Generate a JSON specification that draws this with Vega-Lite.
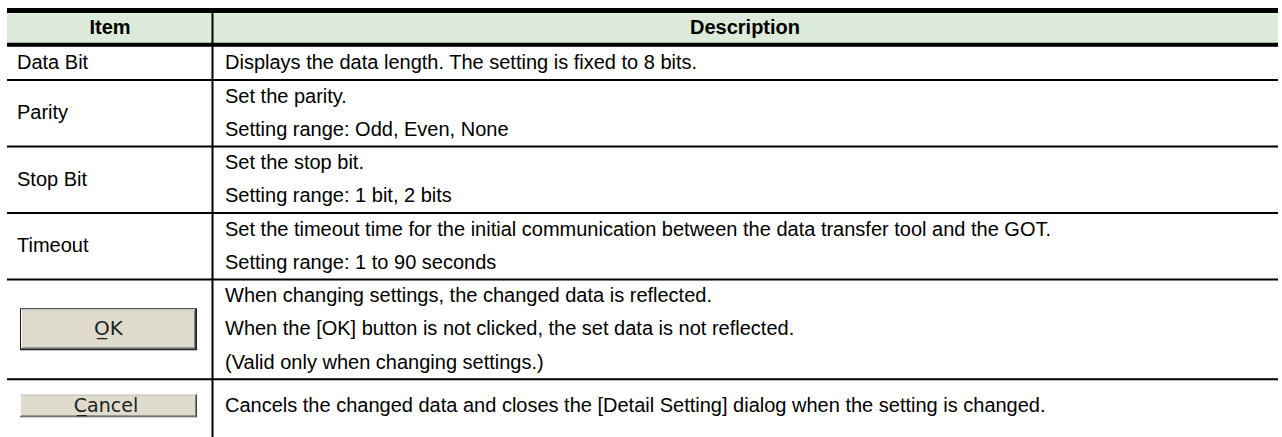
{
  "$schema": "https://vega.github.io/schema/vega-lite/v6.json",
  "width": 1282,
  "height": 437,
  "padding": 0,
  "autosize": {"type": "none"},
  "background": "white",
  "config": {"view": {"stroke": null}, "text": {"font": "Liberation Sans"}},
  "datasets": {
    "header": [{"item": "Item", "description": "Description"}],
    "rows": [
      {"item": "Data Bit", "top": 1},
      {"item": "Parity", "top": 2},
      {"item": "Stop Bit", "top": 4},
      {"item": "Timeout", "top": 6},
      {"item": "OK", "top": 8},
      {"item": "Cancel", "top": 11}
    ],
    "lines": [
      {"item": "Data Bit", "line": 1, "text": "Displays the data length. The setting is fixed to 8 bits."},
      {"item": "Parity", "line": 2, "text": "Set the parity."},
      {"item": "Parity", "line": 3, "text": "Setting range: Odd, Even, None"},
      {"item": "Stop Bit", "line": 4, "text": "Set the stop bit."},
      {"item": "Stop Bit", "line": 5, "text": "Setting range: 1 bit, 2 bits"},
      {"item": "Timeout", "line": 6, "text": "Set the timeout time for the initial communication between the data transfer tool and the GOT."},
      {"item": "Timeout", "line": 7, "text": "Setting range: 1 to 90 seconds"},
      {"item": "OK", "line": 8, "text": "When changing settings, the changed data is reflected."},
      {"item": "OK", "line": 9, "text": "When the [OK] button is not clicked, the set data is not reflected."},
      {"item": "OK", "line": 10, "text": "(Valid only when changing settings.)"},
      {"item": "Cancel", "line": 11.3, "text": "Cancels the changed data and closes the [Detail Setting] dialog when the setting is changed."}
    ]
  },
  "layer": [
    {
      "data": {"name": "header"},
      "mark": {"type": "rect", "fill": "#DCEBD9"},
      "encoding": {
        "x": {"datum": 7, "type": "quantitative", "scale": {"domain": [0, 1282], "nice": false, "zero": false}, "axis": null},
        "x2": {"datum": 1278},
        "y": {"datum": 0, "type": "quantitative", "scale": {"domain": [-0.406, 12.737], "nice": false, "zero": false, "reverse": true}, "axis": null},
        "y2": {"datum": 1}
      }
    },
    {
      "data": {"name": "header"},
      "mark": {"type": "rule", "stroke": "black", "strokeWidth": 5, "yOffset": -3},
      "encoding": {
        "x": {"datum": 7, "type": "quantitative", "scale": {"domain": [0, 1282], "nice": false, "zero": false}, "axis": null},
        "x2": {"datum": 1278},
        "y": {"datum": 0, "type": "quantitative", "scale": {"domain": [-0.406, 12.737], "nice": false, "zero": false, "reverse": true}, "axis": null}
      }
    },
    {
      "data": {"name": "header"},
      "mark": {"type": "rule", "stroke": "black", "strokeWidth": 4, "yOffset": -2},
      "encoding": {
        "x": {"datum": 7, "type": "quantitative", "scale": {"domain": [0, 1282], "nice": false, "zero": false}, "axis": null},
        "x2": {"datum": 1278},
        "y": {"datum": 1, "type": "quantitative", "scale": {"domain": [-0.406, 12.737], "nice": false, "zero": false, "reverse": true}, "axis": null}
      }
    },
    {
      "data": {"name": "rows"},
      "transform": [{"filter": "datum.top >= 2"}],
      "mark": {"type": "rule", "stroke": "black", "strokeWidth": 2},
      "encoding": {
        "x": {"datum": 7, "type": "quantitative", "scale": {"domain": [0, 1282], "nice": false, "zero": false}, "axis": null},
        "x2": {"datum": 1278},
        "y": {"field": "top", "type": "quantitative", "scale": {"domain": [-0.406, 12.737], "nice": false, "zero": false, "reverse": true}, "axis": null}
      }
    },
    {
      "data": {"name": "header"},
      "mark": {"type": "rule", "stroke": "black", "strokeWidth": 2, "yOffset": -3},
      "encoding": {
        "x": {"datum": 212.5, "type": "quantitative", "scale": {"domain": [0, 1282], "nice": false, "zero": false}, "axis": null},
        "y": {"datum": 0, "type": "quantitative", "scale": {"domain": [-0.406, 12.737], "nice": false, "zero": false, "reverse": true}, "axis": null},
        "y2": {"datum": 12.737}
      }
    },
    {
      "data": {"name": "header"},
      "mark": {"type": "text", "fontWeight": "bold", "fontSize": 20, "align": "center", "baseline": "middle", "yOffset": 15, "color": "black"},
      "encoding": {
        "x": {"datum": 110, "type": "quantitative", "scale": {"domain": [0, 1282], "nice": false, "zero": false}, "axis": null},
        "y": {"datum": 0, "type": "quantitative", "scale": {"domain": [-0.406, 12.737], "nice": false, "zero": false, "reverse": true}, "axis": null},
        "text": {"field": "item"}
      }
    },
    {
      "data": {"name": "header"},
      "mark": {"type": "text", "fontWeight": "bold", "fontSize": 20, "align": "center", "baseline": "middle", "yOffset": 15, "color": "black"},
      "encoding": {
        "x": {"datum": 745, "type": "quantitative", "scale": {"domain": [0, 1282], "nice": false, "zero": false}, "axis": null},
        "y": {"datum": 0, "type": "quantitative", "scale": {"domain": [-0.406, 12.737], "nice": false, "zero": false, "reverse": true}, "axis": null},
        "text": {"field": "description"}
      }
    },
    {
      "data": {"name": "lines"},
      "transform": [
        {"filter": "datum.item != 'OK' && datum.item != 'Cancel'"},
        {"aggregate": [{"op": "mean", "field": "line", "as": "mid"}], "groupby": ["item"]}
      ],
      "mark": {"type": "text", "fontSize": 20, "align": "left", "baseline": "middle", "yOffset": 16.6, "color": "black"},
      "encoding": {
        "x": {"datum": 17, "type": "quantitative", "scale": {"domain": [0, 1282], "nice": false, "zero": false}, "axis": null},
        "y": {"field": "mid", "type": "quantitative", "scale": {"domain": [-0.406, 12.737], "nice": false, "zero": false, "reverse": true}, "axis": null},
        "text": {"field": "item"}
      }
    },
    {
      "data": {"name": "lines"},
      "mark": {"type": "text", "fontSize": 20, "align": "left", "baseline": "middle", "yOffset": 16.6, "color": "black"},
      "encoding": {
        "x": {"datum": 225, "type": "quantitative", "scale": {"domain": [0, 1282], "nice": false, "zero": false}, "axis": null},
        "y": {"field": "line", "type": "quantitative", "scale": {"domain": [-0.406, 12.737], "nice": false, "zero": false, "reverse": true}, "axis": null},
        "text": {"field": "text"}
      }
    },
    {
      "data": {"name": "lines"},
      "transform": [{"filter": "datum.item == 'OK'"}, {"aggregate": [{"op": "mean", "field": "line", "as": "mid"}], "groupby": ["item"]}],
      "layer": [
        {"mark": {"type": "rect", "fill": "#1a1a1a", "yOffset": -4.4, "y2Offset": 37.6},
         "encoding": {"x": {"datum": 20, "type": "quantitative", "scale": {"domain": [0, 1282], "nice": false, "zero": false}, "axis": null}, "x2": {"datum": 197},
           "y": {"field": "mid", "type": "quantitative", "scale": {"domain": [-0.406, 12.737], "nice": false, "zero": false, "reverse": true}, "axis": null}, "y2": {"field": "mid"}}},
        {"mark": {"type": "rect", "fill": "#404040", "yOffset": -3.4, "y2Offset": 36.6},
         "encoding": {"x": {"datum": 21, "type": "quantitative", "scale": {"domain": [0, 1282], "nice": false, "zero": false}, "axis": null}, "x2": {"datum": 196},
           "y": {"field": "mid", "type": "quantitative", "scale": {"domain": [-0.406, 12.737], "nice": false, "zero": false, "reverse": true}, "axis": null}, "y2": {"field": "mid"}}},
        {"mark": {"type": "rect", "fill": "#ffffff", "yOffset": -3.4, "y2Offset": 35.6},
         "encoding": {"x": {"datum": 21, "type": "quantitative", "scale": {"domain": [0, 1282], "nice": false, "zero": false}, "axis": null}, "x2": {"datum": 195},
           "y": {"field": "mid", "type": "quantitative", "scale": {"domain": [-0.406, 12.737], "nice": false, "zero": false, "reverse": true}, "axis": null}, "y2": {"field": "mid"}}},
        {"mark": {"type": "rect", "fill": "#808080", "yOffset": -2.4, "y2Offset": 35.6},
         "encoding": {"x": {"datum": 22, "type": "quantitative", "scale": {"domain": [0, 1282], "nice": false, "zero": false}, "axis": null}, "x2": {"datum": 195},
           "y": {"field": "mid", "type": "quantitative", "scale": {"domain": [-0.406, 12.737], "nice": false, "zero": false, "reverse": true}, "axis": null}, "y2": {"field": "mid"}}},
        {"mark": {"type": "rect", "fill": "#DFDCCD", "yOffset": -2.4, "y2Offset": 34.6},
         "encoding": {"x": {"datum": 22, "type": "quantitative", "scale": {"domain": [0, 1282], "nice": false, "zero": false}, "axis": null}, "x2": {"datum": 194},
           "y": {"field": "mid", "type": "quantitative", "scale": {"domain": [-0.406, 12.737], "nice": false, "zero": false, "reverse": true}, "axis": null}, "y2": {"field": "mid"}}},
        {"mark": {"type": "text", "font": "DejaVu Sans", "fontSize": 20, "align": "center", "baseline": "middle", "yOffset": 16.6, "color": "#222222"},
         "encoding": {"x": {"datum": 108.5, "type": "quantitative", "scale": {"domain": [0, 1282], "nice": false, "zero": false}, "axis": null},
           "y": {"field": "mid", "type": "quantitative", "scale": {"domain": [-0.406, 12.737], "nice": false, "zero": false, "reverse": true}, "axis": null},
           "text": {"value": "O\u0332K"}}}
      ]
    },
    {
      "data": {"name": "lines"},
      "transform": [{"filter": "datum.item == 'Cancel'"}, {"aggregate": [{"op": "mean", "field": "line", "as": "mid"}], "groupby": ["item"]}],
      "layer": [
        {"mark": {"type": "rect", "fill": "#404040", "yOffset": 5.1, "y2Offset": 28.1},
         "encoding": {"x": {"datum": 20, "type": "quantitative", "scale": {"domain": [0, 1282], "nice": false, "zero": false}, "axis": null}, "x2": {"datum": 197},
           "y": {"field": "mid", "type": "quantitative", "scale": {"domain": [-0.406, 12.737], "nice": false, "zero": false, "reverse": true}, "axis": null}, "y2": {"field": "mid"}}},
        {"mark": {"type": "rect", "fill": "#ffffff", "yOffset": 5.1, "y2Offset": 27.1},
         "encoding": {"x": {"datum": 20, "type": "quantitative", "scale": {"domain": [0, 1282], "nice": false, "zero": false}, "axis": null}, "x2": {"datum": 196},
           "y": {"field": "mid", "type": "quantitative", "scale": {"domain": [-0.406, 12.737], "nice": false, "zero": false, "reverse": true}, "axis": null}, "y2": {"field": "mid"}}},
        {"mark": {"type": "rect", "fill": "#808080", "yOffset": 6.1, "y2Offset": 27.1},
         "encoding": {"x": {"datum": 21, "type": "quantitative", "scale": {"domain": [0, 1282], "nice": false, "zero": false}, "axis": null}, "x2": {"datum": 196},
           "y": {"field": "mid", "type": "quantitative", "scale": {"domain": [-0.406, 12.737], "nice": false, "zero": false, "reverse": true}, "axis": null}, "y2": {"field": "mid"}}},
        {"mark": {"type": "rect", "fill": "#DFDCCD", "yOffset": 6.1, "y2Offset": 26.1},
         "encoding": {"x": {"datum": 21, "type": "quantitative", "scale": {"domain": [0, 1282], "nice": false, "zero": false}, "axis": null}, "x2": {"datum": 195},
           "y": {"field": "mid", "type": "quantitative", "scale": {"domain": [-0.406, 12.737], "nice": false, "zero": false, "reverse": true}, "axis": null}, "y2": {"field": "mid"}}},
        {"mark": {"type": "text", "font": "DejaVu Sans", "fontSize": 19, "align": "center", "baseline": "middle", "yOffset": 16.6, "color": "#222222"},
         "encoding": {"x": {"datum": 106, "type": "quantitative", "scale": {"domain": [0, 1282], "nice": false, "zero": false}, "axis": null},
           "y": {"field": "mid", "type": "quantitative", "scale": {"domain": [-0.406, 12.737], "nice": false, "zero": false, "reverse": true}, "axis": null},
           "text": {"value": "C\u0332ancel"}}}
      ]
    }
  ]
}
